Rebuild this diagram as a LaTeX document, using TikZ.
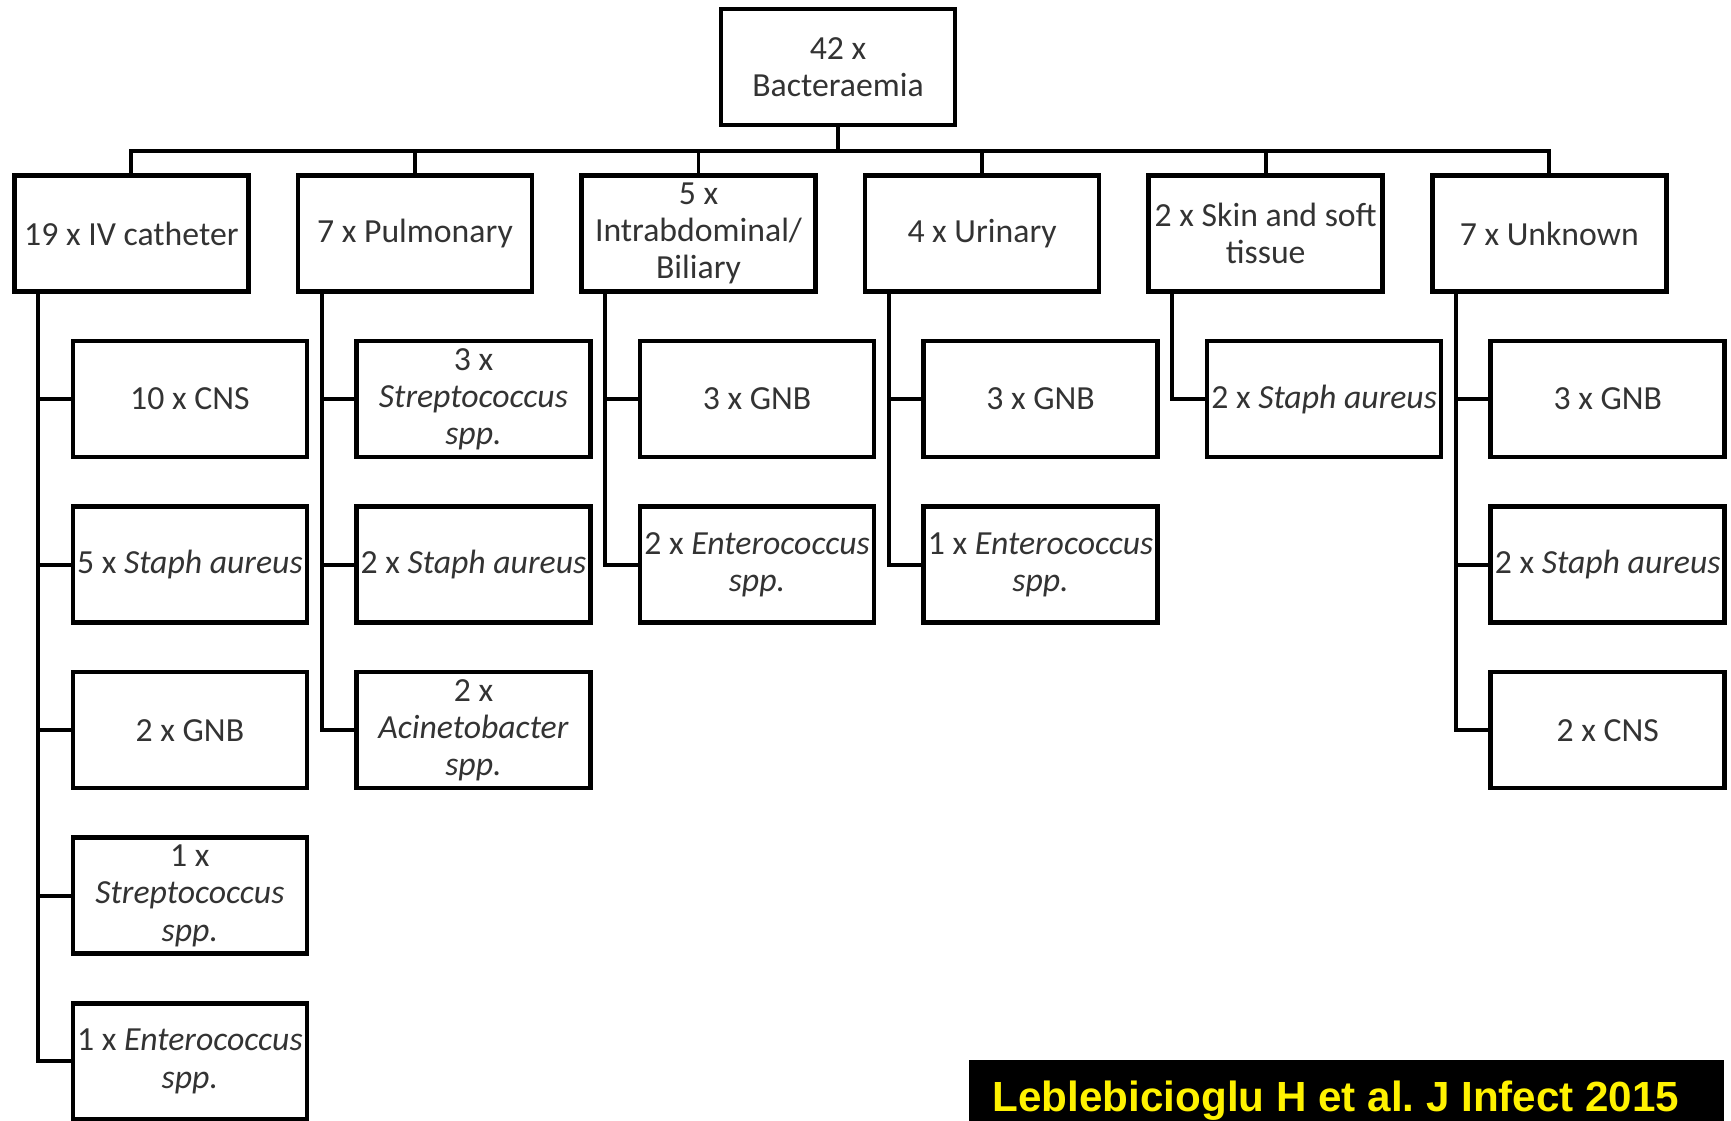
\documentclass[tikz,border=0pt]{standalone}
\usepackage{fontspec}
\setmainfont{Carlito}
\newfontfamily\citefont{Liberation Sans}
\usetikzlibrary{positioning}
\tikzset{
	box/.style={
		rectangle,
		draw=black, line width=1.3pt,
		minimum width=2.34cm,
		minimum height=1.16cm,
		inner sep=1pt,
		align=center,
		text=black!80,
		font=\fontsize{9.6}{10.6}\selectfont},
	link/.style={draw, line width=1.1pt},
	citebox/.style={fill=black},
	citetext/.style={anchor=base, text=yellow, font=\citefont\bfseries\fontsize{12}{14}\selectfont},
}
\begin{document}
\begin{tikzpicture}
			[node distance=.45cm]
			\useasboundingbox (0,0) rectangle (17.31,-11.21);
			% top and first level
			\node[box] (root) at (8.38,-0.67) {42 x\\Bacteraemia};
			\node[box] (cath) at (1.314,-2.335) {19 x IV catheter};
			\node[box, right=of cath] (pulm) {7 x Pulmonary};
			\node[box, right=of pulm] (abd) {5 x\\Intrabdominal/\\Biliary};
			\node[box, right=of abd] (uri) {4 x Urinary};
			\node[box, right=of uri] (skin) {2 x Skin and soft\\tissue};
			\node[box, right=of skin] (unk) {7 x Unknown};
			
			% IV catheter
			\node[box, below=of cath, xshift=0.585cm] (cath1) {10 x CNS};
			\node[box, below=of cath1] (cath2) {5 x \textit{Staph aureus}};
			\node[box, below=of cath2] (cath3) {2 x GNB};
			\node[box, below=of cath3] (cath4) {1 x\\\textit{Streptococcus}\\\textit{spp.}};
			\node[box, below=of cath4] (cath5) {1 x \textit{Enterococcus}\\\textit{spp.}};
			
			% pulmonary
			\node[box, below=of pulm, xshift=0.585cm] (pulm1) {3 x\\\textit{Streptococcus}\\\textit{spp.}};
			\node[box, below=of pulm1] (pulm2) {2 x \textit{Staph aureus}};
			\node[box, below=of pulm2] (pulm3) {2 x\\\textit{Acinetobacter}\\\textit{spp.}};
			
			% intrabdominal
			\node[box, below=of abd, xshift=0.585cm] (abd1) {3 x GNB};
			\node[box, below=of abd1] (abd2) {2 x \textit{Enterococcus}\\\textit{spp.}};
			
			% urinary
			\node[box, below=of uri, xshift=0.585cm] (uri1) {3 x GNB};
			\node[box, below=of uri1] (uri2) {1 x \textit{Enterococcus}\\\textit{spp.}};
			
			% skin
			\node[box, below=of skin, xshift=0.585cm] (skin1) {2 x \textit{Staph aureus}};
			
			% unknown
			\node[box, below=of unk, xshift=0.585cm] (unk1) {3 x GNB};
			\node[box, below=of unk1] (unk2) {2 x \textit{Staph aureus}};
			\node[box, below=of unk2] (unk3) {2 x CNS};
			
			% connectors
			\draw[link] (root.south) -- ++(0,-0.24) -| (cath.north);
			\draw[link] (root.south) -- ++(0,-0.24) -| (pulm.north);
			\draw[link] (root.south) -- ++(0,-0.24) -| (abd.north);
			\draw[link] (root.south) -- ++(0,-0.24) -| (uri.north);
			\draw[link] (root.south) -- ++(0,-0.24) -| (skin.north);
			\draw[link] (root.south) -- ++(0,-0.24) -| (unk.north);
			
			\draw[link] ([xshift=0.26cm]cath.south west) |- (cath1.west);
			\draw[link] ([xshift=0.26cm]cath.south west) |- (cath2.west);
			\draw[link] ([xshift=0.26cm]cath.south west) |- (cath3.west);
			\draw[link] ([xshift=0.26cm]cath.south west) |- (cath4.west);
			\draw[link] ([xshift=0.26cm]cath.south west) |- (cath5.west);
			\draw[link] ([xshift=0.26cm]pulm.south west) |- (pulm1.west);
			\draw[link] ([xshift=0.26cm]pulm.south west) |- (pulm2.west);
			\draw[link] ([xshift=0.26cm]pulm.south west) |- (pulm3.west);
			\draw[link] ([xshift=0.26cm]abd.south west) |- (abd1.west);
			\draw[link] ([xshift=0.26cm]abd.south west) |- (abd2.west);
			\draw[link] ([xshift=0.26cm]uri.south west) |- (uri1.west);
			\draw[link] ([xshift=0.26cm]uri.south west) |- (uri2.west);
			\draw[link] ([xshift=0.26cm]skin.south west) |- (skin1.west);
			\draw[link] ([xshift=0.26cm]unk.south west) |- (unk1.west);
			\draw[link] ([xshift=0.26cm]unk.south west) |- (unk2.west);
			\draw[link] ([xshift=0.26cm]unk.south west) |- (unk3.west);
			
			% reference
			\fill[citebox] (9.69,-10.60) rectangle (17.24,-11.21);
			\node[citetext] (cite) at (13.36,-11.12) {Leblebicioglu H et al.\ J Infect 2015};
			
\end{tikzpicture}
\end{document}
